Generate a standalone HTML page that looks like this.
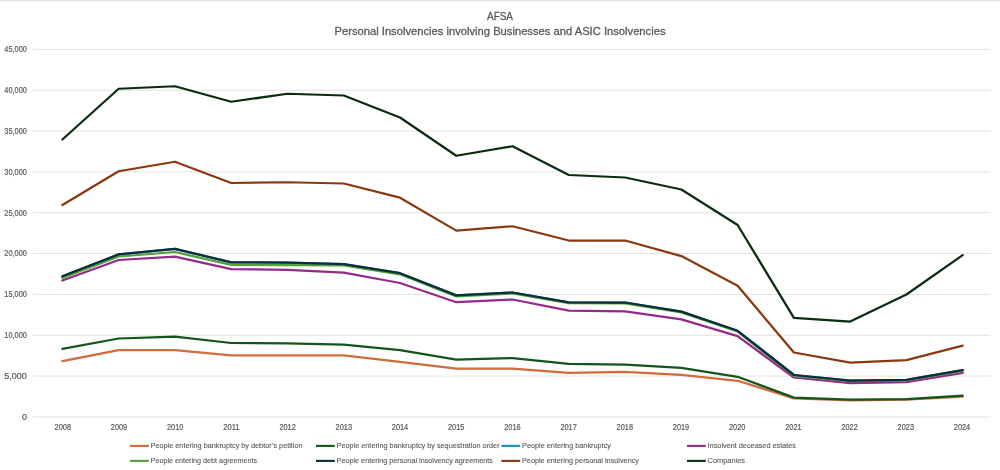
<!DOCTYPE html>
<html><head><meta charset="utf-8"><style>
html,body{margin:0;padding:0;background:#fff;}
body{width:1000px;height:470px;overflow:hidden;position:relative;}
svg{position:absolute;left:0;top:0;font-family:"Liberation Sans", sans-serif;will-change:transform;}
text{stroke:#595959;stroke-width:0.2px;}
.topbar{position:absolute;left:0;top:0;width:1000px;height:1px;background:#E3E3E3;}
.topbar2{position:absolute;left:0;top:1px;width:1000px;height:1px;background:#F7F7F7;}
</style></head><body>
<svg width="1000" height="470" viewBox="0 0 1000 470">
<line x1="33" y1="416.90" x2="990.5" y2="416.90" stroke="#E2E2E2" stroke-width="1"/>
<line x1="33" y1="376.07" x2="990.5" y2="376.07" stroke="#E2E2E2" stroke-width="1"/>
<line x1="33" y1="335.23" x2="990.5" y2="335.23" stroke="#E2E2E2" stroke-width="1"/>
<line x1="33" y1="294.40" x2="990.5" y2="294.40" stroke="#E2E2E2" stroke-width="1"/>
<line x1="33" y1="253.57" x2="990.5" y2="253.57" stroke="#E2E2E2" stroke-width="1"/>
<line x1="33" y1="212.73" x2="990.5" y2="212.73" stroke="#E2E2E2" stroke-width="1"/>
<line x1="33" y1="171.90" x2="990.5" y2="171.90" stroke="#E2E2E2" stroke-width="1"/>
<line x1="33" y1="131.07" x2="990.5" y2="131.07" stroke="#E2E2E2" stroke-width="1"/>
<line x1="33" y1="90.23" x2="990.5" y2="90.23" stroke="#E2E2E2" stroke-width="1"/>
<line x1="33" y1="49.40" x2="990.5" y2="49.40" stroke="#E2E2E2" stroke-width="1"/>
<text x="26.9" y="419.70" text-anchor="end" font-size="8.9" fill="#595959">0</text>
<text x="26.9" y="378.87" text-anchor="end" font-size="8.9" fill="#595959" textLength="22.6" lengthAdjust="spacingAndGlyphs">5,000</text>
<text x="26.9" y="338.03" text-anchor="end" font-size="8.9" fill="#595959" textLength="22.6" lengthAdjust="spacingAndGlyphs">10,000</text>
<text x="26.9" y="297.20" text-anchor="end" font-size="8.9" fill="#595959" textLength="22.6" lengthAdjust="spacingAndGlyphs">15,000</text>
<text x="26.9" y="256.37" text-anchor="end" font-size="8.9" fill="#595959" textLength="22.6" lengthAdjust="spacingAndGlyphs">20,000</text>
<text x="26.9" y="215.53" text-anchor="end" font-size="8.9" fill="#595959" textLength="22.6" lengthAdjust="spacingAndGlyphs">25,000</text>
<text x="26.9" y="174.70" text-anchor="end" font-size="8.9" fill="#595959" textLength="22.6" lengthAdjust="spacingAndGlyphs">30,000</text>
<text x="26.9" y="133.87" text-anchor="end" font-size="8.9" fill="#595959" textLength="22.6" lengthAdjust="spacingAndGlyphs">35,000</text>
<text x="26.9" y="93.03" text-anchor="end" font-size="8.9" fill="#595959" textLength="22.6" lengthAdjust="spacingAndGlyphs">40,000</text>
<text x="26.9" y="52.20" text-anchor="end" font-size="8.9" fill="#595959" textLength="22.6" lengthAdjust="spacingAndGlyphs">45,000</text>
<text x="62.80" y="430.1" text-anchor="middle" font-size="8.7" fill="#595959" textLength="16.4" lengthAdjust="spacingAndGlyphs">2008</text>
<text x="119.00" y="430.1" text-anchor="middle" font-size="8.7" fill="#595959" textLength="16.4" lengthAdjust="spacingAndGlyphs">2009</text>
<text x="175.20" y="430.1" text-anchor="middle" font-size="8.7" fill="#595959" textLength="16.4" lengthAdjust="spacingAndGlyphs">2010</text>
<text x="231.40" y="430.1" text-anchor="middle" font-size="8.7" fill="#595959" textLength="16.4" lengthAdjust="spacingAndGlyphs">2011</text>
<text x="287.60" y="430.1" text-anchor="middle" font-size="8.7" fill="#595959" textLength="16.4" lengthAdjust="spacingAndGlyphs">2012</text>
<text x="343.80" y="430.1" text-anchor="middle" font-size="8.7" fill="#595959" textLength="16.4" lengthAdjust="spacingAndGlyphs">2013</text>
<text x="400.00" y="430.1" text-anchor="middle" font-size="8.7" fill="#595959" textLength="16.4" lengthAdjust="spacingAndGlyphs">2014</text>
<text x="456.20" y="430.1" text-anchor="middle" font-size="8.7" fill="#595959" textLength="16.4" lengthAdjust="spacingAndGlyphs">2015</text>
<text x="512.40" y="430.1" text-anchor="middle" font-size="8.7" fill="#595959" textLength="16.4" lengthAdjust="spacingAndGlyphs">2016</text>
<text x="568.60" y="430.1" text-anchor="middle" font-size="8.7" fill="#595959" textLength="16.4" lengthAdjust="spacingAndGlyphs">2017</text>
<text x="624.80" y="430.1" text-anchor="middle" font-size="8.7" fill="#595959" textLength="16.4" lengthAdjust="spacingAndGlyphs">2018</text>
<text x="681.00" y="430.1" text-anchor="middle" font-size="8.7" fill="#595959" textLength="16.4" lengthAdjust="spacingAndGlyphs">2019</text>
<text x="737.20" y="430.1" text-anchor="middle" font-size="8.7" fill="#595959" textLength="16.4" lengthAdjust="spacingAndGlyphs">2020</text>
<text x="793.40" y="430.1" text-anchor="middle" font-size="8.7" fill="#595959" textLength="16.4" lengthAdjust="spacingAndGlyphs">2021</text>
<text x="849.60" y="430.1" text-anchor="middle" font-size="8.7" fill="#595959" textLength="16.4" lengthAdjust="spacingAndGlyphs">2022</text>
<text x="905.80" y="430.1" text-anchor="middle" font-size="8.7" fill="#595959" textLength="16.4" lengthAdjust="spacingAndGlyphs">2023</text>
<text x="962.00" y="430.1" text-anchor="middle" font-size="8.7" fill="#595959" textLength="16.4" lengthAdjust="spacingAndGlyphs">2024</text>
<polyline points="62.40,361.10 118.67,350.20 174.94,350.20 231.21,355.30 287.48,355.30 343.74,355.30 400.01,361.80 456.28,368.70 512.55,368.70 568.82,372.90 625.09,371.80 681.36,374.80 737.62,380.80 793.89,398.40 850.16,400.50 906.43,399.70 962.70,396.70" fill="none" stroke="#D26A3C" stroke-width="2.25" stroke-linejoin="round" stroke-linecap="round"/>
<polyline points="62.40,348.90 118.67,338.50 174.94,336.60 231.21,343.00 287.48,343.30 343.74,344.60 400.01,350.10 456.28,359.70 512.55,358.10 568.82,363.80 625.09,364.60 681.36,367.90 737.62,376.80 793.89,397.60 850.16,399.70 906.43,399.10 962.70,395.70" fill="none" stroke="#14551C" stroke-width="2.25" stroke-linejoin="round" stroke-linecap="round"/>
<polyline points="62.40,276.30 118.67,254.40 174.94,248.80 231.21,262.40 287.48,262.60 343.74,264.10 400.01,273.20 456.28,295.40 512.55,292.50 568.82,302.40 625.09,302.50 681.36,311.60 737.62,330.80 793.89,375.00 850.16,380.60 906.43,379.90 962.70,370.10" fill="none" stroke="#1A8DBA" stroke-width="2.25" stroke-linejoin="round" stroke-linecap="round"/>
<polyline points="62.40,280.50 118.67,260.00 174.94,256.60 231.21,269.10 287.48,269.80 343.74,272.70 400.01,283.00 456.28,302.20 512.55,299.50 568.82,310.70 625.09,311.40 681.36,319.30 737.62,336.10 793.89,377.50 850.16,383.20 906.43,382.10 962.70,373.00" fill="none" stroke="#952A8C" stroke-width="2.25" stroke-linejoin="round" stroke-linecap="round"/>
<polyline points="62.40,277.90 118.67,256.50 174.94,252.00 231.21,264.80 287.48,265.10 343.74,265.40 400.01,274.30 456.28,296.40 512.55,293.50 568.82,303.20 625.09,303.50 681.36,312.50 737.62,331.50 793.89,375.80 850.16,381.20 906.43,380.50 962.70,370.80" fill="none" stroke="#55A03A" stroke-width="2.25" stroke-linejoin="round" stroke-linecap="round"/>
<polyline points="62.40,276.30 118.67,254.40 174.94,248.80 231.21,262.40 287.48,262.60 343.74,264.10 400.01,273.20 456.28,295.40 512.55,292.50 568.82,302.40 625.09,302.50 681.36,311.60 737.62,330.80 793.89,375.00 850.16,380.60 906.43,379.90 962.70,370.10" fill="none" stroke="#0C2D3C" stroke-width="2.25" stroke-linejoin="round" stroke-linecap="round"/>
<polyline points="62.40,205.00 118.67,171.25 174.94,161.75 231.21,183.00 287.48,182.25 343.74,183.50 400.01,197.70 456.28,230.60 512.55,226.25 568.82,240.50 625.09,240.50 681.36,256.10 737.62,285.80 793.89,352.50 850.16,362.70 906.43,360.20 962.70,345.60" fill="none" stroke="#8A3810" stroke-width="2.25" stroke-linejoin="round" stroke-linecap="round"/>
<polyline points="62.40,139.50 118.67,88.75 174.94,86.25 231.21,101.75 287.48,93.75 343.74,95.50 400.01,117.50 456.28,155.75 512.55,146.25 568.82,175.00 625.09,177.50 681.36,189.50 737.62,225.00 793.89,317.80 850.16,321.60 906.43,294.50 962.70,255.20" fill="none" stroke="#0A2C10" stroke-width="2.25" stroke-linejoin="round" stroke-linecap="round"/>
<text x="500" y="19.7" text-anchor="middle" font-size="11.6" fill="#595959" style="stroke-width:0.3px" textLength="26" lengthAdjust="spacingAndGlyphs">AFSA</text>
<text x="500" y="35" text-anchor="middle" font-size="11.6" fill="#595959" style="stroke-width:0.3px" textLength="331" lengthAdjust="spacingAndGlyphs">Personal Insolvencies involving Businesses and ASIC Insolvencies</text>
<line x1="130" y1="445.9" x2="148.8" y2="445.9" stroke="#D26A3C" stroke-width="2.1"/>
<text x="150.6" y="448.2" font-size="8.1" style="stroke-width:0.12px" fill="#595959" textLength="152" lengthAdjust="spacingAndGlyphs">People entering bankruptcy by debtor’s petition</text>
<line x1="316" y1="445.9" x2="334.8" y2="445.9" stroke="#14551C" stroke-width="2.1"/>
<text x="336.6" y="448.2" font-size="8.1" style="stroke-width:0.12px" fill="#595959" textLength="163" lengthAdjust="spacingAndGlyphs">People entering bankruptcy by sequestration order</text>
<line x1="501.4" y1="445.9" x2="520.1999999999999" y2="445.9" stroke="#1A8DBA" stroke-width="2.1"/>
<text x="522.0" y="448.2" font-size="8.1" style="stroke-width:0.12px" fill="#595959" textLength="89" lengthAdjust="spacingAndGlyphs">People entering bankruptcy</text>
<line x1="687" y1="445.9" x2="705.8" y2="445.9" stroke="#952A8C" stroke-width="2.1"/>
<text x="707.6" y="448.2" font-size="8.1" style="stroke-width:0.12px" fill="#595959" textLength="88.4" lengthAdjust="spacingAndGlyphs">Insolvent deceased estates</text>
<line x1="130" y1="460.9" x2="148.8" y2="460.9" stroke="#55A03A" stroke-width="2.1"/>
<text x="150.6" y="463.2" font-size="8.1" style="stroke-width:0.12px" fill="#595959" textLength="106.6" lengthAdjust="spacingAndGlyphs">People entering debt agreements</text>
<line x1="316" y1="460.9" x2="334.8" y2="460.9" stroke="#0C2D3C" stroke-width="2.1"/>
<text x="336.6" y="463.2" font-size="8.1" style="stroke-width:0.12px" fill="#595959" textLength="156.4" lengthAdjust="spacingAndGlyphs">People entering personal insolvency agreements</text>
<line x1="501.4" y1="460.9" x2="520.1999999999999" y2="460.9" stroke="#8A3810" stroke-width="2.1"/>
<text x="522.0" y="463.2" font-size="8.1" style="stroke-width:0.12px" fill="#595959" textLength="117" lengthAdjust="spacingAndGlyphs">People entering personal insolvency</text>
<line x1="687" y1="460.9" x2="705.8" y2="460.9" stroke="#0A2C10" stroke-width="2.1"/>
<text x="707.6" y="463.2" font-size="8.1" style="stroke-width:0.12px" fill="#595959" textLength="37.4" lengthAdjust="spacingAndGlyphs">Companies</text>
</svg>
<div class="topbar"></div><div class="topbar2"></div>
</body></html>
